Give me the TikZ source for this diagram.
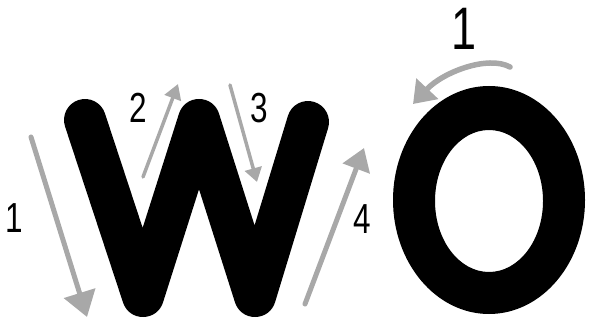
\documentclass[tikz,border=0pt]{standalone}
\usepackage{fontspec}
\setmainfont{Liberation Sans}
\newfontfamily\digitfont[FakeStretch=0.75]{Liberation Sans}
\usetikzlibrary{arrows.meta}
\definecolor{arrowgray}{RGB}{168,168,168}
\tikzset{
  letterstroke/.style={line width=42pt, line join=round, line cap=round, black},
  guide/.style={draw=arrowgray, line cap=round},
  numlabel/.style={inner sep=0pt, font=\digitfont\fontsize{42}{42}\selectfont},
}
\begin{document}
\begin{tikzpicture}[x=1pt,y=-1pt]
\useasboundingbox (0,0) rectangle (593,328);
% letter W
\draw[letterstroke] (85,120) -- (143,296) -- (199,120) -- (255,296) -- (308,122);
% letter O
\fill[black, even odd rule] (489,200) ellipse [x radius=96, y radius=114]
  (489,201) ellipse [x radius=54, y radius=71];
% guide arrows
\coordinate (a1s) at (31,137);  \coordinate (a1e) at (87,317);
\coordinate (a2s) at (143,177); \coordinate (a2e) at (178,84);
\coordinate (a3s) at (230,85);  \coordinate (a3e) at (257,182);
\coordinate (a4s) at (305,304); \coordinate (a4e) at (364,148);
\coordinate (a5s) at (510,67);  \coordinate (a5e) at (413,104);
\draw[guide, line width=5pt, -{Triangle[length=25pt,width=32pt]}] (a1s) -- (a1e);
\draw[guide, line width=3.5pt, -{Triangle[length=15pt,width=17pt]}] (a2s) -- (a2e);
\draw[guide, line width=3.5pt, -{Triangle[length=14pt,width=17pt]}] (a3s) -- (a3e);
\draw[guide, line width=5pt, -{Triangle[length=22pt,width=28pt]}] (a4s) -- (a4e);
\draw[guide, line width=5.5pt, -{Triangle[length=21pt,width=29pt]}] (a5s) .. controls (488,55) and (443,72) .. (a5e);
% numbers
\node[numlabel] (n1) at (14,218) {1};
\node[numlabel] (n2) at (138,108) {2};
\node[numlabel] (n3) at (259,108) {3};
\node[numlabel] (n4) at (362,219) {4};
\node[inner sep=0pt, font=\digitfont\fontsize{60}{60}\selectfont] (n5) at (464,29) {1};
\end{tikzpicture}
\end{document}
